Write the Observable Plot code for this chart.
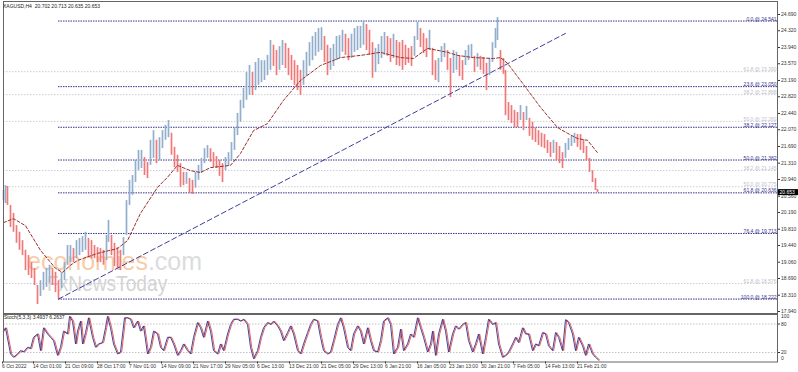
<!DOCTYPE html>
<html><head><meta charset="utf-8">
<script src="https://cdn.jsdelivr.net/npm/d3@7"></script>
<script src="https://cdn.jsdelivr.net/npm/@observablehq/plot@0.6"></script>
<style>
html,body{margin:0;padding:0;background:#fff;}
#wrap{position:relative;width:798px;height:372px;overflow:hidden;background:#fff;font-family:"Liberation Sans",Arial,sans-serif;}
#main,#stoch{position:absolute;left:0;}
#main{top:0}
#stoch{top:313px}
.t{position:absolute;white-space:nowrap;line-height:1;}
</style></head><body>
<div id="wrap">
 <div class="t" style="left:27px;top:251px;font-size:25px;line-height:0.8;color:#f6cdaa">economies<span style="color:#dcdcdc">.com</span></div>
 <div class="t" style="left:47px;top:275px;font-size:22px;line-height:0.8;color:#d4d4d4;transform:scaleX(0.87);transform-origin:left top">FxNewsToday</div>
 <div id="main"></div>
 <div id="stoch"></div>
 <div class="t" style="left:3px;top:4px;font-size:5px;color:#222">XAGUSD,H4&nbsp; 20.702 20.713 20.635 20.653</div>
 <div class="t" style="left:4px;top:314.5px;font-size:5px;color:#222">Stoch(5,3,3) 3.4937 6.2637</div>
</div>
<script>
// ---- candle samples (bar index ~ time position, high, low) ----
const bars = [
 3,5,7,10,13,16,19,22,25,28,
 31,34,37,40,43,46,49,52,55,58,
 61,64,67,70,73,76,79,82,85,88,
 91,94,97,100,103,106,108,111,114,117,
 120,123,126,129,132,135,138,141,144,147,
 150,153,156,159,162,165,168,171,174,177,
 180,183,186,189,192,195,198,201,204,207,
 210,213,216,219,222,225,228,231,234,237,
 240,243,246,249,252,255,258,261,264,267,
 270,273,276,279,282,285,288,291,294,297,
 300,303,306,309,312,315,318,321,324,327,
 330,333,336,339,342,345,348,351,354,357,
 360,363,366,369,372,375,378,381,384,387,
 390,393,396,399,402,405,408,411,414,417,
 420,423,426,429,432,435,438,441,444,447,
 450,453,456,459,462,465,468,471,474,477,
 480,483,486,489,492,495,497,500,503,505,
 508,511,514,517,520,523,526,529,532,535,
 538,541,544,547,550,553,556,559,562,565,
 568,571,574,577,580,583,586,589,592,595,597];
const highs = [
 20.69,20.80,20.78,20.35,20.17,19.89,19.74,19.55,19.33,19.21,
 19.05,18.92,18.53,18.64,18.83,18.92,18.99,18.92,18.83,18.64,
 18.83,19.05,19.44,19.44,19.37,19.55,19.60,19.64,19.74,19.60,
 19.55,19.44,19.39,19.37,19.33,19.67,20.01,19.67,19.49,19.39,
 19.33,19.62,20.46,20.92,21.03,21.37,21.60,21.60,21.44,21.33,
 21.83,22.05,21.83,21.89,22.05,22.17,22.28,21.99,21.67,21.49,
 21.30,21.10,21.10,20.96,20.92,21.10,21.26,21.42,21.64,21.71,
 21.64,21.55,21.46,21.37,21.30,21.44,21.55,21.78,22.10,22.44,
 22.74,23.01,23.37,23.53,23.37,23.60,23.69,23.64,23.64,23.76,
 24.10,23.99,23.87,23.96,24.10,24.03,23.92,23.76,23.64,23.53,
 23.42,23.64,23.83,24.05,24.19,24.28,24.37,24.39,24.19,23.99,
 23.92,24.01,24.19,24.21,24.33,24.24,24.14,24.24,24.37,24.42,
 24.42,24.55,24.46,24.33,24.05,23.92,24.01,24.19,24.28,24.19,
 24.14,24.24,24.10,24.05,24.10,23.99,23.92,23.96,24.19,24.51,
 24.37,24.26,24.14,24.33,23.92,23.64,23.69,23.96,24.03,23.87,
 23.69,23.87,23.83,23.74,23.64,23.87,23.99,24.01,23.74,23.80,
 23.74,23.71,23.58,23.69,24.05,24.37,24.62,23.87,23.69,23.42,
 22.69,22.62,22.51,22.46,22.62,22.46,22.60,22.33,22.24,22.10,
 22.05,21.99,21.96,21.83,21.78,21.83,21.78,21.69,21.55,21.76,
 21.87,21.92,21.99,21.96,21.96,21.83,21.69,21.42,21.14,20.96,20.71];
const lows = [
 20.46,20.39,20.35,19.85,19.74,19.49,19.33,19.21,18.87,18.76,
 18.69,18.53,18.10,18.28,18.42,18.49,18.58,18.53,18.37,18.22,
 18.46,18.64,18.99,19.05,19.05,19.14,19.21,19.28,19.33,19.17,
 19.14,19.14,19.05,19.05,18.99,19.10,19.51,19.21,18.96,18.92,
 18.87,19.21,19.67,20.35,20.58,20.87,21.14,21.19,21.03,20.96,
 21.26,21.42,21.30,21.37,21.64,21.83,21.89,21.49,21.21,21.10,
 20.76,20.80,20.83,20.62,20.60,20.74,20.92,21.08,21.30,21.42,
 21.33,21.21,21.19,21.01,20.87,21.14,21.24,21.37,21.60,21.94,
 22.24,22.55,22.74,22.85,22.85,22.96,23.08,23.14,23.19,23.30,
 23.42,23.51,23.30,23.42,23.53,23.46,23.30,23.19,23.08,22.96,
 22.85,23.08,23.28,23.51,23.64,23.74,23.83,23.87,23.60,23.30,
 23.42,23.51,23.64,23.69,23.83,23.76,23.64,23.69,23.83,23.87,
 23.92,23.99,23.87,23.76,23.24,23.37,23.55,23.69,23.76,23.74,
 23.60,23.69,23.53,23.51,23.42,23.53,23.58,23.51,23.74,24.10,
 23.94,23.80,23.71,23.87,23.30,23.19,23.14,23.60,23.71,23.42,
 22.80,23.35,23.42,23.28,23.19,23.53,23.64,23.69,23.37,23.49,
 23.42,23.33,22.96,23.30,23.60,23.92,24.10,23.42,23.33,22.39,
 22.28,22.21,22.12,22.12,22.28,22.05,22.28,21.92,21.83,21.78,
 21.71,21.67,21.64,21.53,21.44,21.53,21.37,21.30,21.19,21.42,
 21.60,21.69,21.76,21.67,21.60,21.53,21.37,21.10,20.87,20.69,20.64];
const lastPrice = 20.653;

// ---- moving average (read at points) ----
const maBars = [3,13,25,40,55,62,70,77,97,117,127,140,157,167,177,190,200,210,230,240,253,267,283,300,320,340,360,380,400,413,427,447,457,473,493,500,507,520,540,557,567,577,587,597];
const maVals = [19.96,20.05,19.89,19.33,18.92,18.83,18.99,19.10,19.26,19.37,19.55,20.17,20.76,20.99,21.26,21.14,21.10,21.21,21.26,21.53,22.05,22.21,22.74,23.19,23.53,23.71,23.76,23.83,23.71,23.69,23.92,23.83,23.76,23.71,23.69,23.71,23.58,23.19,22.58,22.12,21.99,21.87,21.83,21.55];

// ---- trend line ----
const trendBars = [58, 565];
const trendVals = [18.222, 24.26];

// ---- Fibonacci levels ----
const fibStart = 58;
const fibPct = ["0.0","23.6","38.2","50.0","61.8","76.4","100.0"];
const fibVals = [24.541,23.050,22.127,21.382,20.636,19.713,18.222];
const fib2Pct = ["61.8","38.2","50.0","38.2","50.0","61.8"];
const fib2Vals = [23.390,22.868,22.260,21.145,20.775,18.576];

// ---- price axis ----
const priceTicks = [24.690,24.320,23.940,23.570,23.190,22.820,22.440,22.070,21.690,21.310,20.940,20.560,20.190,19.810,19.440,19.060,18.690,18.310,17.940];

// ---- time axis ----
const timeBars = [2,33,65,97,129,161,193,225,257,289,321,353,385,417,449,481,513,545,577];
const timeLabels = ["6 Oct 2022","14 Oct 01:00","21 Oct 09:00","28 Oct 17:00","7 Nov 01:00","14 Nov 09:00","21 Nov 17:00","29 Nov 05:00","6 Dec 13:00","13 Dec 21:00","21 Dec 05:00","29 Dec 13:00","6 Jan 21:00","16 Jan 05:00","23 Jan 13:00","30 Jan 21:00","7 Feb 05:00","14 Feb 13:00","21 Feb 21:00"];

// ---- stochastic ----
const stochBars = [3,5,10,13,17,20,23,27,30,33,37,40,43,47,50,53,57,60,63,67,69,72,75,77,80,82,85,88,92,95,98,102,105,107,110,113,117,120,124,127,130,133,137,140,143,147,150,153,157,160,163,167,170,173,177,180,183,187,190,193,197,200,203,207,210,213,217,220,223,227,230,233,237,240,243,247,250,253,257,260,263,267,270,273,277,280,283,287,290,293,297,300,303,307,310,313,317,320,323,327,330,333,337,340,343,347,350,353,357,360,363,367,370,373,377,380,383,387,390,393,397,400,403,407,410,413,417,420,423,427,430,432,435,438,442,445,448,452,455,458,462,465,468,472,475,478,482,485,488,492,495,498,502,505,508,512,515,518,522,525,528,532,535,538,542,545,548,552,555,558,562,565,568,572,575,578,582,585,588,592,595,598];
const stochK = [65,72,17,10,17,24,21,31,28,52,59,24,72,59,52,45,14,31,65,59,96,86,38,65,86,38,62,93,52,31,38,41,72,96,72,38,17,21,93,93,90,72,86,65,76,17,31,65,59,31,24,52,52,38,14,24,38,24,17,52,83,72,52,86,65,24,17,38,24,59,79,90,90,86,90,79,31,7,24,52,72,83,79,86,76,65,45,62,76,59,24,17,38,62,79,90,86,52,24,17,21,45,79,93,72,31,24,59,76,65,38,72,45,24,21,45,86,93,79,17,31,69,24,38,59,52,93,72,52,21,38,65,14,59,90,65,21,59,76,69,79,83,45,21,38,59,17,52,90,79,83,38,10,14,21,38,52,41,72,59,59,24,38,34,62,59,34,24,62,52,24,89,83,59,24,52,34,14,38,17,10,4];
const stochLevels = [20, 80];

// ---- build tables ----
const candles = bars.map((b, i) => ({bar: b, hi: highs[i], lo: lows[i],
  up: i === 0 ? true : (highs[i] + lows[i]) >= (highs[i-1] + lows[i-1])}));
const ma = maBars.map((b, i) => ({bar: b, v: maVals[i]}));
const trend = trendBars.map((b, i) => ({bar: b, v: trendVals[i]}));
const fib = fibPct.map((p, i) => ({p, v: fibVals[i]}));
const fib2 = fib2Pct.map((p, i) => ({p, v: fib2Vals[i]}));
const times = timeBars.map((b, i) => ({bar: b, label: timeLabels[i]}));
const stoch = stochBars.map((b, i) => ({bar: b, k: stochK[i]}));

const xDom = [3, 777];
const FS = 5;
const navy = "#34348c";

const mainPlot = Plot.plot({
  width: 798, height: 314,
  marginTop: 1, marginBottom: 1, marginLeft: 3, marginRight: 21,
  style: {background: "transparent", overflow: "visible", color: "#333", fontFamily: "Liberation Sans, Arial, sans-serif"},
  x: {domain: xDom, axis: null},
  y: {domain: [17.894, 24.985], axis: null},
  marks: [
    Plot.ruleY(fib2, {y: "v", stroke: "#cdcdd8", strokeDasharray: "1.5,1.5", strokeWidth: 1}),
    Plot.ruleY(fib, {y: "v", x1: () => fibStart, x2: () => xDom[1], stroke: navy, strokeDasharray: "1.5,1", strokeWidth: 1}),
    Plot.ruleX(candles, {x: "bar", y1: "lo", y2: "hi", stroke: d => d.up ? "#93aecd" : "#f07878", strokeWidth: 1.7}),
    Plot.line(ma, {x: "bar", y: "v", stroke: "#9a2f2a", strokeDasharray: "3,2", strokeWidth: 1}),
    Plot.line(trend, {x: "bar", y: "v", stroke: "#3e3e9c", strokeDasharray: "5,3", strokeWidth: 1}),
    Plot.text(fib2, {x: () => xDom[1] - 1, y: "v", text: d => `${d.p} @ ${d.v.toFixed(3)}`, textAnchor: "end", lineAnchor: "bottom", dy: -0.5, fontSize: FS, fill: "#bdbdca"}),
    Plot.text(fib, {x: () => xDom[1] - 1, y: "v", text: d => `${d.p} @ ${d.v.toFixed(3)}`, textAnchor: "end", lineAnchor: "bottom", dy: -0.5, fontSize: FS, fill: navy}),
    Plot.frame({stroke: "#666"}),
    Plot.axisY({anchor: "right", ticks: priceTicks, tickFormat: d => d.toFixed(3), tickSize: 2, tickPadding: 1.5, fontSize: FS, label: null}),
    Plot.ruleY([lastPrice], {x1: () => 778, x2: () => 798, stroke: "black", strokeWidth: 6}),
    Plot.text([lastPrice], {x: () => 779, y: d => d, text: d => d.toFixed(3), textAnchor: "start", fill: "white", fontSize: FS})
  ]
});
document.getElementById("main").appendChild(mainPlot);

const stochPlot = Plot.plot({
  width: 798, height: 59,
  marginTop: 1, marginBottom: 10.5, marginLeft: 3, marginRight: 21,
  style: {background: "transparent", overflow: "visible", color: "#333", fontFamily: "Liberation Sans, Arial, sans-serif"},
  x: {domain: xDom, axis: null},
  y: {domain: [0, 100], axis: null},
  marks: [
    Plot.ruleY(stochLevels, {stroke: "#c4c4c4", strokeDasharray: "1.5,1.5"}),
    Plot.line(stoch, {x: "bar", y: "k", stroke: "#e24c4c", strokeWidth: 0.9, dx: 1.2}),
    Plot.line(stoch, {x: "bar", y: "k", stroke: "#30308e", strokeWidth: 0.9}),
    Plot.frame({stroke: "#666"}),
    Plot.axisY({anchor: "right", ticks: stochLevels, tickSize: 2, tickPadding: 1.5, fontSize: FS, label: null}),
    Plot.text([100], {x: () => 777, y: d => d, text: String, textAnchor: "start", dx: 3.5, dy: 2, fontSize: FS}),
    Plot.text([0], {x: () => 777, y: d => d, text: String, textAnchor: "start", dx: 3.5, dy: -3.5, fontSize: FS}),
    Plot.axisX({ticks: timeBars, tickFormat: () => "", tickSize: 2, label: null}),
    Plot.text(times, {x: "bar", text: "label", frameAnchor: "bottom", textAnchor: "start", lineAnchor: "top", dy: 2, dx: -0.5, fontSize: FS})
  ]
});
document.getElementById("stoch").appendChild(stochPlot);
</script>
</body></html>
